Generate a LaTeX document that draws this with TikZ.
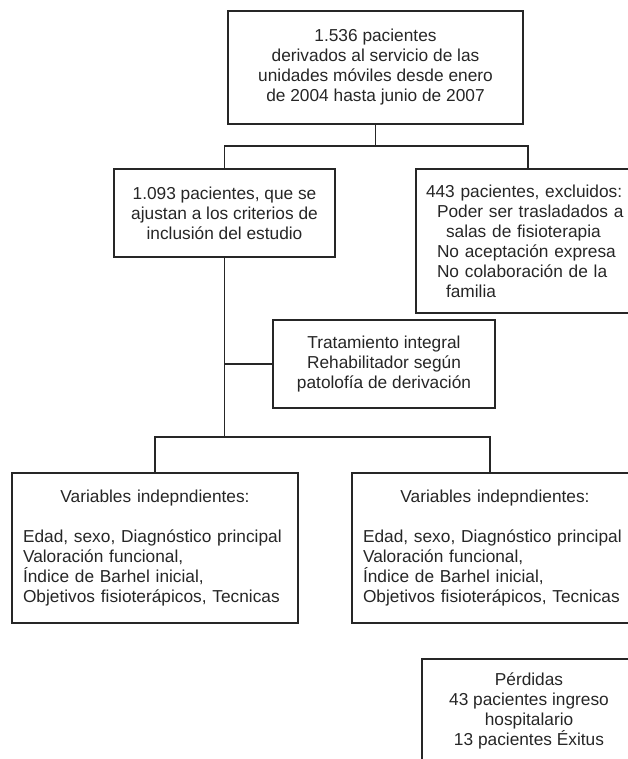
\documentclass[tikz,border=0pt]{standalone}
\usepackage{fontspec}
\setmainfont{Liberation Sans}
\begin{document}
\begin{tikzpicture}[x=1pt, y=-1pt, line width=1.1pt, black!85,
  box/.style={draw, rectangle, inner sep=0pt, font=\fontsize{17.3}{20}\selectfont},
  varbox/.style={box, text width=264pt, inner xsep=11pt, minimum width=286pt, minimum height=150pt, align=left}]
\useasboundingbox (0,0) rectangle (627,759);
\node[box, minimum width=295, minimum height=113, align=center] (pac) at (375.5,67.5){1.536 pacientes\\derivados al servicio de las\\unidades móviles desde enero\\de 2004 hasta junio de 2007};
\node[box, minimum width=221, minimum height=88, align=center] (crit) at (224.5,213){1.093 pacientes, que se\\ajustan a los criterios de\\inclusión del estudio};
\node[box, text width=204pt, inner xsep=10pt, minimum width=224, minimum height=144, align=left] (excl) at (528,241){443 pacientes, excluidos:\\\hspace*{11pt}Poder ser trasladados a\\\hspace*{20pt}salas de fisioterapia\\\hspace*{11pt}No aceptación expresa\\\hspace*{11pt}No colaboración de la\\\hspace*{20pt}familia};
\node[box, minimum width=222, minimum height=88, align=center] (trat) at (384,364){Tratamiento integral\\Rehabilitador según\\patolofía de derivación};
\node[varbox] (varL) at (155,548){\makebox[264pt]{Variables indepndientes:}\\[20pt]Edad, sexo, Diagnóstico principal\\Valoración funcional,\\Índice de Barhel inicial,\\Objetivos fisioterápicos, Tecnicas};
\node[varbox] (varR) at (495,548){\makebox[264pt]{Variables indepndientes:}\\[20pt]Edad, sexo, Diagnóstico principal\\Valoración funcional,\\Índice de Barhel inicial,\\Objetivos fisioterápicos, Tecnicas};
\node[box, minimum width=214, minimum height=103, align=center] (perd) at (529,710.5){Pérdidas\\43 pacientes ingreso\\hospitalario\\13 pacientes Éxitus};
\coordinate (forkA) at (375.5,146);
\coordinate (forkB) at (224.5,437);
\coordinate (forkC) at (490,437);
\draw[](pac.south) -- (forkA);
\draw[](crit.north) |- (forkA) -| (excl.north);
\draw[](crit.south) -- (forkB);
\draw[](varL.north) |- (forkC) -- (forkC |- varR.north);
\draw[](trat.west) -- (trat.west -| forkB);
\end{tikzpicture}
\end{document}
